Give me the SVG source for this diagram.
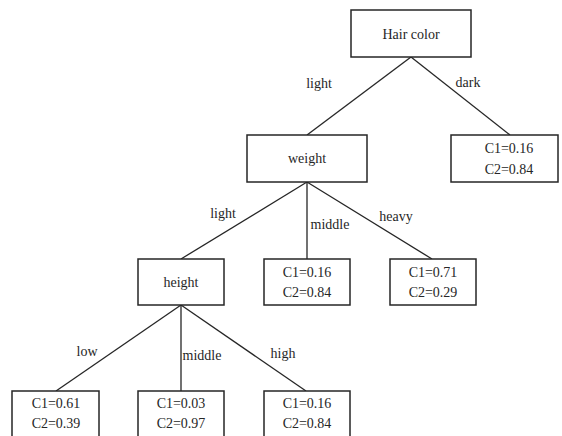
<svg xmlns="http://www.w3.org/2000/svg" width="562" height="436" viewBox="0 0 562 436">
  <style>
    .box { fill: #fff; stroke: #262626; stroke-width: 1.5; }
    .edge { stroke: #262626; stroke-width: 1.3; fill: none; }
    .lbl { font-family: 'Liberation Serif', 'DejaVu Serif', 'Times New Roman', Times, serif; font-size: 14px; fill: #262626; text-anchor: middle; }
  </style>
  <rect width="562" height="436" fill="#fff"/>

  <g class="lbl" font-family="Liberation Serif, DejaVu Serif, serif">
  <!-- branches -->
  <g id="connectors">
    <line class="edge" x1="411" y1="57" x2="307" y2="135"/>
    <line class="edge" x1="411" y1="57" x2="510" y2="135"/>
    <line class="edge" x1="307" y1="182" x2="181" y2="259"/>
    <line class="edge" x1="307" y1="182" x2="307" y2="259"/>
    <line class="edge" x1="307" y1="182" x2="432" y2="259"/>
    <line class="edge" x1="181" y1="305" x2="56" y2="391"/>
    <line class="edge" x1="181" y1="305" x2="181" y2="391"/>
    <line class="edge" x1="181" y1="305" x2="306" y2="391"/>
    <text x="319" y="88">light</text>
    <text x="468" y="87">dark</text>
    <text x="223" y="218">light</text>
    <text x="330" y="229">middle</text>
    <text x="396" y="221">heavy</text>
    <text x="87" y="356">low</text>
    <text x="202" y="360">middle</text>
    <text x="283" y="358">high</text>
  </g>

  <g id="hair-color">
    <rect class="box" x="351" y="10" width="120" height="47"/>
    <text x="411" y="39">Hair color</text>
  </g>
  <g id="dark-leaf">
    <rect class="box" x="451" y="135" width="107" height="47"/>
    <text x="509" y="153">C1=0.16</text>
    <text x="509" y="174">C2=0.84</text>
  </g>
  <g id="weight">
    <rect class="box" x="247" y="135" width="120" height="47"/>
    <text x="307" y="163">weight</text>
  </g>
  <g id="height">
    <rect class="box" x="138" y="259" width="86" height="46"/>
    <text x="181" y="287">height</text>
  </g>
  <g id="weight-middle-leaf">
    <rect class="box" x="264" y="259" width="86" height="46"/>
    <text x="307" y="277">C1=0.16</text>
    <text x="307" y="297">C2=0.84</text>
  </g>
  <g id="weight-heavy-leaf">
    <rect class="box" x="390" y="259" width="86" height="46"/>
    <text x="433" y="277">C1=0.71</text>
    <text x="433" y="297">C2=0.29</text>
  </g>
  <g id="height-low-leaf">
    <rect class="box" x="12" y="391" width="87" height="50"/>
    <text x="56" y="408">C1=0.61</text>
    <text x="56" y="428">C2=0.39</text>
  </g>
  <g id="height-middle-leaf">
    <rect class="box" x="138" y="391" width="86" height="50"/>
    <text x="181" y="408">C1=0.03</text>
    <text x="181" y="428">C2=0.97</text>
  </g>
  <g id="height-high-leaf">
    <rect class="box" x="264" y="391" width="86" height="50"/>
    <text x="307" y="408">C1=0.16</text>
    <text x="307" y="428">C2=0.84</text>
  </g>
  </g>
</svg>
